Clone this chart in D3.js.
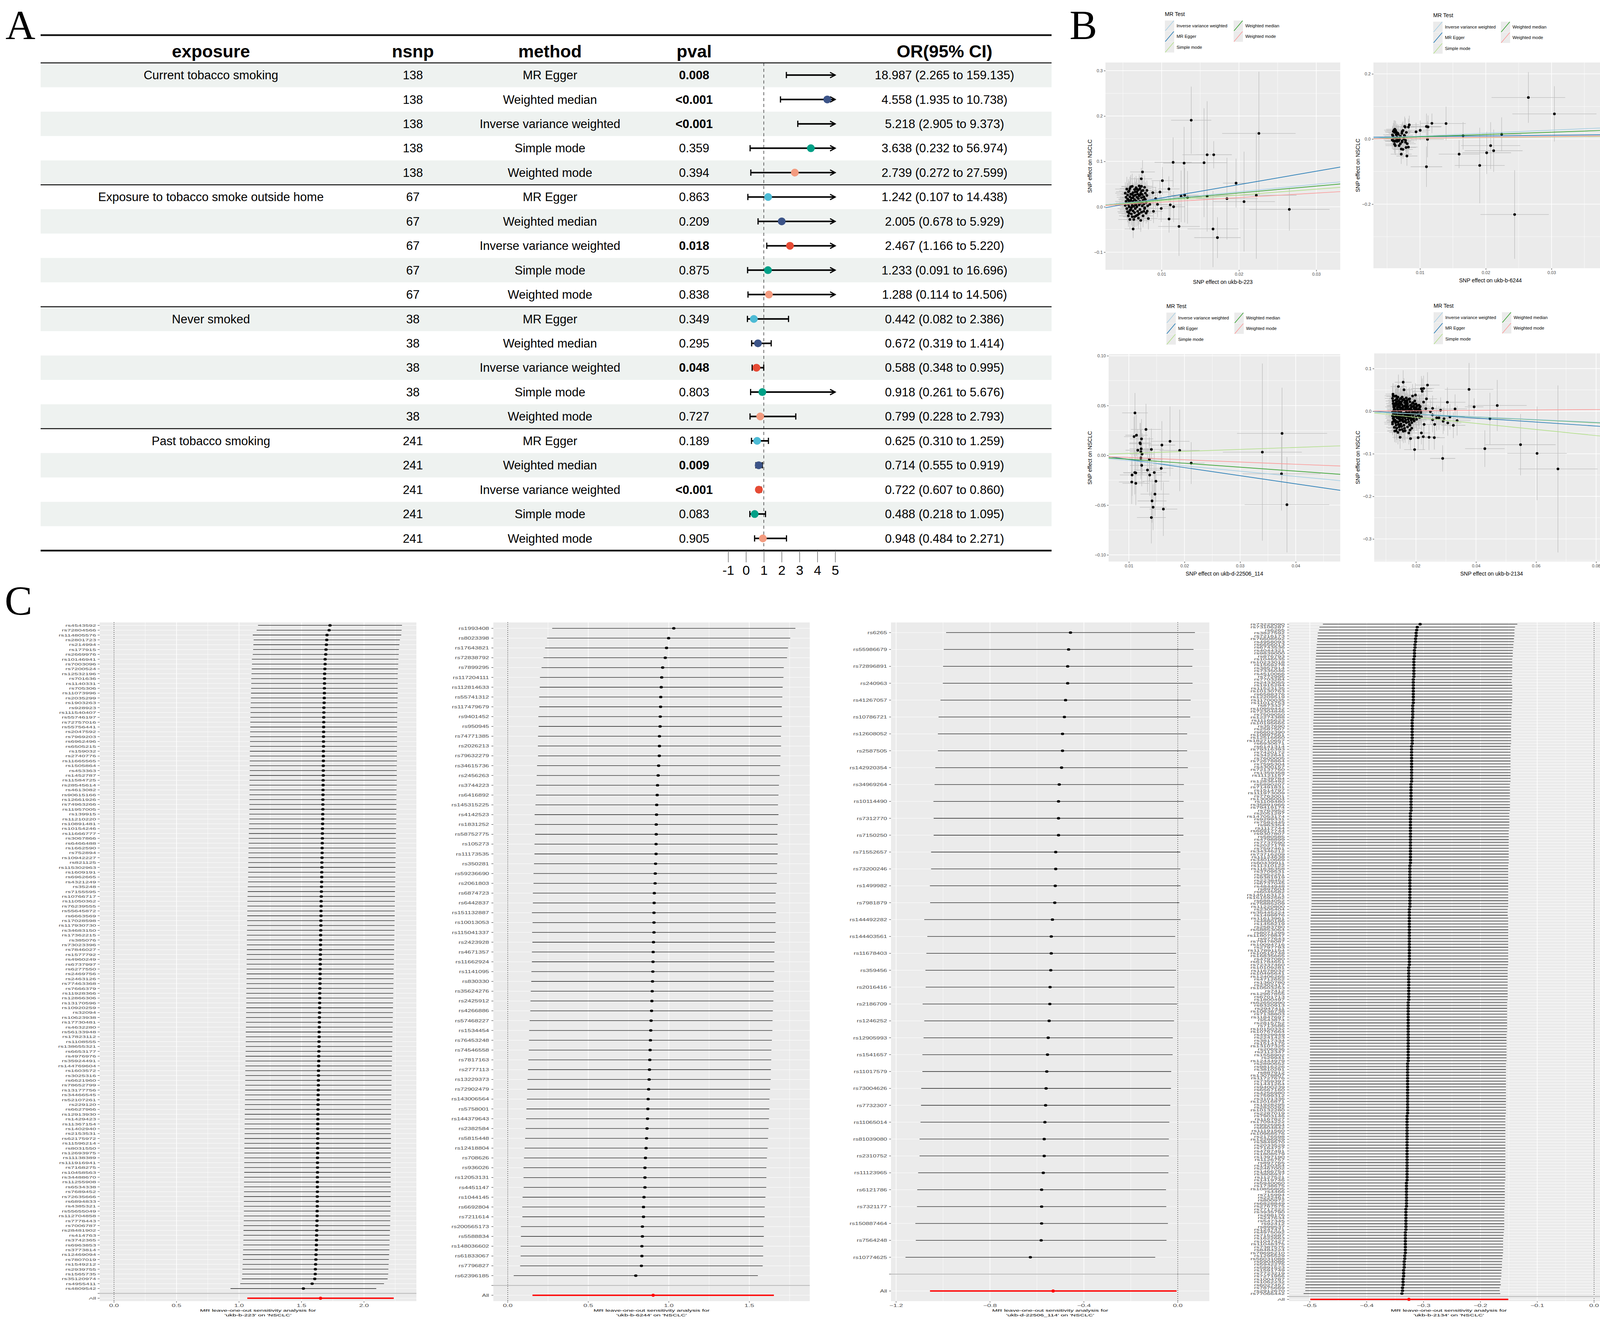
<!DOCTYPE html>
<html><head><meta charset="utf-8">
<script src="https://cdn.jsdelivr.net/npm/d3@7/dist/d3.min.js"></script>
<style>html,body{margin:0;padding:0;background:#fff}svg{display:block}</style>
</head><body>
<svg id="fig" width="4134" height="3388" xmlns="http://www.w3.org/2000/svg"></svg>
<script>
// ================= DATA : panel A (forest table) =================
const aHeaders = ["exposure","nsnp","method","pval","OR(95% CI)"];
const aExposures = ["Current tobacco smoking","Exposure to tobacco smoke outside home","Never smoked","Past tobacco smoking"];
const aMethods = ["MR Egger","Weighted median","Inverse variance weighted","Simple mode","Weighted mode"];
const aNsnp = [138,67,38,241];
const aPval = ["0.008","<0.001","<0.001","0.359","0.394","0.863","0.209","0.018","0.875","0.838","0.349","0.295","0.048","0.803","0.727","0.189","0.009","<0.001","0.083","0.905"];
const aOR = [18.987,4.558,5.218,3.638,2.739,1.242,2.005,2.467,1.233,1.288,0.442,0.672,0.588,0.918,0.799,0.625,0.714,0.722,0.488,0.948];
const aLo = [2.265,1.935,2.905,0.232,0.272,0.107,0.678,1.166,0.091,0.114,0.082,0.319,0.348,0.261,0.228,0.310,0.555,0.607,0.218,0.484];
const aHi = [159.135,10.738,9.373,56.974,27.599,14.438,5.929,5.220,16.696,14.506,2.386,1.414,0.995,5.676,2.793,1.259,0.919,0.860,1.095,2.271];
const aAxisTicks = [-1,0,1,2,3,4,5];
const aMethodColors = ["#4DBBD5","#3C5488","#E64B35","#00A087","#F39B7F"];

// ================= DATA : panel B (scatter) =================
const bMethods = ["Inverse variance weighted","MR Egger","Simple mode","Weighted median","Weighted mode"];
const bColors = ["#a6cee3","#1f78b4","#b2df8a","#33a02c","#fb9a99"];
const bDrawOrder = [1,3,0,2,4];
const bExposureIds = ["ukb-b-223","ukb-b-6244","ukb-d-22506_114","ukb-b-2134"];
// slopes / intercepts in bMethods order
const b1Slopes = [1.652,2.944,1.291,1.517,1.008], b1Intercepts = [0,-0.010,0,0,0];
const b2Slopes = [0.903,0.217,0.209,0.696,0.253], b2Intercepts = [0,0.005,0,0,0];
const b3Slopes = [-0.531,-0.816,0.198,-0.397,-0.224], b3Intercepts = [0,0.004,0,0,0];
const b4Slopes = [-0.326,-0.470,-0.717,-0.337,0.047], b4Intercepts = [0,0.0026,0,0,0];
const b1XTicks=[0.01,0.02,0.03], b1YTicks=[-0.1,0,0.1,0.2,0.3];
const b2XTicks=[0.01,0.02,0.03], b2YTicks=[-0.2,0,0.2];
const b3XTicks=[0.01,0.02,0.03,0.04], b3YTicks=[-0.10,-0.05,0,0.05,0.10];
const b4XTicks=[0.02,0.04,0.06,0.08], b4YTicks=[-0.3,-0.2,-0.1,0,0.1];
const b1XRange=[0.00274,0.0331], b1YRange=[-0.139,0.318];
const b2XRange=[0.00292,0.0385], b2YRange=[-0.397,0.235];
const b3XRange=[0.00636,0.048], b3YRange=[-0.1067,0.1016];
const b4XRange=[0.0061,0.0843], b4YRange=[-0.353,0.1356];
// points: [beta.exposure, beta.outcome, se.exposure, se.outcome]
const b1Points = [
[0.01383,0.1908,0.0026,0.074],[0.02258,0.1617,0.00475,0.136],[0.01149,0.0979,0.0024,0.055],[0.01291,0.0962,0.0027,0.08],[0.01549,0.0971,0.003,0.12],
[0.01589,0.1146,0.0032,0.118],[0.01674,0.1146,0.0023,0.03],[0.01963,0.0521,0.0017,0.054],[0.0101,0.0575,0.0014,0.03],[0.01094,0.0392,0.0014,0.028],
[0.00978,0.0325,0.0012,0.026],[0.00886,0.031,0.0012,0.025],[0.00923,0.018,0.0012,0.025],[0.01252,0.023,0.0018,0.057],[0.01298,0.0254,0.0018,0.06],
[0.01335,0.0208,0.0019,0.058],[0.01589,0.0233,0.0025,0.078],[0.01845,0.018,0.004,0.09],[0.02225,0.0254,0.0052,0.14],[0.02066,0.0113,0.004,0.11],
[0.02652,-0.0058,0.0052,0.047],[0.00947,0.0054,0.0013,0.028],[0.00995,-0.0037,0.0013,0.03],[0.01112,0.0042,0.0015,0.032],[0.01155,0.0,0.0015,0.034],
[0.00895,-0.01,0.0012,0.026],[0.01096,-0.027,0.0014,0.03],[0.01225,-0.0433,0.0027,0.065],[0.01665,-0.049,0.0033,0.084],[0.01722,-0.068,0.003,0.045],
[0.00632,-0.049,0.0011,0.02],[0.00753,0.0767,0.0016,0.026],[0.00737,0.0617,0.0014,0.024],[0.00829,-0.026,0.0012,0.024],[0.00781,-0.002,0.0012,0.025],
[0.00814,-0.0096,0.0012,0.024],[0.00847,0.0054,0.0013,0.026],
[0.0053,0.030,0.0013,0.024],[0.0054,0.021,0.0012,0.022],[0.0054,0.012,0.0014,0.025],[0.0055,-0.004,0.0012,0.021],[0.0055,0.039,0.0015,0.027],
[0.0056,-0.011,0.0013,0.023],[0.0056,0.017,0.0012,0.020],[0.0056,0.026,0.0014,0.026],[0.0057,0.005,0.0013,0.022],[0.0057,-0.020,0.0012,0.024],
[0.0057,0.033,0.0016,0.028],[0.0058,0.010,0.0013,0.021],[0.0058,-0.014,0.0014,0.023],[0.0058,0.000,0.0012,0.020],[0.0059,0.022,0.0013,0.025],
[0.0059,-0.028,0.0015,0.022],[0.0059,0.040,0.0013,0.026],[0.0060,0.014,0.0012,0.021],[0.0060,-0.006,0.0014,0.024],[0.0060,0.028,0.0013,0.023],
[0.0061,0.008,0.0012,0.020],[0.0061,-0.016,0.0013,0.025],[0.0061,0.019,0.0015,0.022],[0.0062,0.003,0.0013,0.021],[0.0062,0.045,0.0014,0.028],
[0.0062,-0.022,0.0012,0.023],[0.0063,0.012,0.0013,0.024],[0.0063,0.031,0.0014,0.022],[0.0063,-0.009,0.0012,0.021],[0.0064,0.024,0.0013,0.026],
[0.0064,0.001,0.0015,0.020],[0.0064,-0.028,0.0013,0.024],[0.0065,0.016,0.0012,0.022],[0.0065,0.038,0.0014,0.027],[0.0065,-0.013,0.0013,0.023],
[0.0066,0.006,0.0012,0.021],[0.0066,0.026,0.0013,0.025],[0.0066,-0.004,0.0014,0.022],[0.0067,0.042,0.0015,0.026],[0.0067,0.013,0.0013,0.020],
[0.0067,-0.020,0.0012,0.024],[0.0068,0.021,0.0013,0.023],[0.0068,0.000,0.0014,0.021],[0.0068,0.033,0.0012,0.025],[0.0069,-0.010,0.0013,0.022],
[0.0069,0.010,0.0012,0.020],[0.0069,0.028,0.0015,0.024],[0.0070,-0.025,0.0013,0.023],[0.0070,0.018,0.0014,0.021],[0.0070,0.037,0.0013,0.026],
[0.0071,0.004,0.0012,0.022],[0.0071,-0.015,0.0013,0.024],[0.0071,0.024,0.0014,0.021],[0.0072,0.012,0.0013,0.023],[0.0072,-0.006,0.0012,0.020],
[0.0072,0.040,0.0015,0.027],[0.0073,0.030,0.0013,0.022],[0.0073,-0.030,0.0014,0.025],[0.0073,0.008,0.0012,0.021],[0.0074,0.020,0.0013,0.024],
[0.0074,-0.012,0.0013,0.022],[0.0074,0.045,0.0014,0.026],[0.0075,0.002,0.0012,0.020],[0.0075,0.027,0.0013,0.023],[0.0076,0.014,0.0014,0.021],
[0.0076,-0.020,0.0013,0.025],[0.0076,0.036,0.0012,0.022],[0.0077,0.006,0.0013,0.024],[0.0077,0.022,0.0014,0.021],[0.0078,-0.004,0.0013,0.023],
[0.0078,0.043,0.0015,0.026],[0.0079,0.016,0.0012,0.022],[0.0079,0.030,0.0013,0.024],[0.0080,0.009,0.0014,0.021],[0.0080,-0.014,0.0013,0.023],
[0.0081,0.025,0.0012,0.025],[0.0081,0.036,0.0013,0.022],[0.0082,0.002,0.0014,0.024],[0.0058,0.035,0.0013,0.021],[0.0060,0.044,0.0012,0.026],
[0.0063,0.020,0.0014,0.023],[0.0066,0.033,0.0013,0.022],[0.0069,-0.018,0.0012,0.024],[0.0072,0.026,0.0013,0.021],[0.0055,0.008,0.0014,0.025],
[0.0061,-0.002,0.0013,0.022],[0.0064,0.009,0.0012,0.020],[0.0067,0.004,0.0013,0.023],[0.0070,0.010,0.0014,0.021],[0.0075,0.010,0.0013,0.024],
[0.0057,0.015,0.0012,0.022],[0.0062,0.027,0.0013,0.025],[0.0068,0.039,0.0014,0.023],[0.0074,0.035,0.0013,0.021],[0.0077,-0.010,0.0012,0.024],
[0.0059,-0.008,0.0013,0.022],[0.0065,-0.022,0.0014,0.023],[0.0071,0.046,0.0013,0.026],[0.0078,0.018,0.0012,0.021],[0.0053,0.003,0.0013,0.022]
];
const b2Points = [
[0.02648,0.1275,0.0056,0.078],[0.03044,0.0771,0.0064,0.085],[0.02242,0.0145,0.0030,0.052],[0.01655,0.0099,0.0045,0.042],[0.01595,-0.0464,0.0031,0.043],
[0.01908,-0.0812,0.0038,0.116],[0.02014,-0.0423,0.0037,0.065],[0.02074,-0.0203,0.0045,0.072],[0.0212,-0.036,0.0044,0.065],[0.02439,-0.2319,0.0052,0.136],
[0.01396,0.0475,0.0030,0.052],[0.01181,0.0481,0.0018,0.030],[0.01098,0.0383,0.0023,0.040],[0.01122,0.0371,0.0020,0.035],[0.01114,-0.0012,0.0025,0.055],
[0.01098,-0.0852,0.0024,0.062],[0.01003,0.0267,0.0015,0.030],[0.0094,0.022,0.0015,0.028],
[0.00581,0.0128,0.0014,0.028],[0.00594,0.0232,0.0013,0.026],[0.00604,0.0272,0.0015,0.030],[0.00617,0.0301,0.0013,0.027],[0.0063,0.0261,0.0014,0.029],
[0.00594,-0.0058,0.0013,0.026],[0.00612,-0.0157,0.0014,0.028],[0.00625,-0.0058,0.0013,0.027],[0.00638,0.0133,0.0015,0.029],[0.00651,-0.0075,0.0013,0.026],
[0.00664,0.0174,0.0014,0.028],[0.00671,0.0145,0.0013,0.027],[0.00656,-0.0029,0.0014,0.026],[0.00677,-0.0058,0.0013,0.028],[0.00633,0.0029,0.0015,0.029],
[0.00599,0.0029,0.0013,0.027],[0.00612,-0.0075,0.0014,0.026],[0.00715,-0.0307,0.0013,0.028],[0.00715,-0.0464,0.0016,0.030],[0.00728,-0.0087,0.0013,0.027],
[0.00728,-0.0058,0.0014,0.026],[0.00741,-0.0319,0.0015,0.029],[0.00741,0.0261,0.0013,0.028],[0.00728,0.0232,0.0014,0.027],[0.00762,0.0116,0.0013,0.026],
[0.00767,0.0087,0.0014,0.028],[0.00767,0.0388,0.0015,0.030],[0.00775,0.0365,0.0013,0.027],[0.0078,-0.0041,0.0014,0.026],[0.0078,-0.0099,0.0013,0.028],
[0.00788,-0.0261,0.0015,0.029],[0.00824,-0.0249,0.0014,0.027],[0.00801,-0.0522,0.0016,0.030],[0.00824,0.0365,0.0013,0.026],[0.00837,0.0435,0.0015,0.028],
[0.00754,0.0,0.0013,0.027],[0.0069,0.0,0.0014,0.026],[0.00702,0.0087,0.0013,0.028],[0.00646,0.0203,0.0014,0.027],[0.00682,-0.0203,0.0013,0.029],
[0.00702,-0.0145,0.0015,0.026],[0.00589,0.0087,0.0013,0.028],[0.00651,0.0058,0.0014,0.027],[0.00723,0.0174,0.0013,0.026],[0.00793,0.0203,0.0014,0.028],
[0.00806,-0.0145,0.0013,0.027],[0.00614,0.0203,0.0014,0.026],[0.00578,-0.0029,0.0013,0.028],[0.00625,-0.0203,0.0015,0.029]
];
const b3Points = [
[0.0111,0.0426,0.0023,0.020],[0.01094,0.0188,0.0018,0.020],[0.01137,0.0202,0.0020,0.021],[0.01308,0.026,0.0027,0.0257],[0.01228,0.0165,0.0021,0.020],
[0.01201,0.0125,0.0019,0.020],[0.01207,0.0116,0.0020,0.021],[0.01161,0.0051,0.0022,0.021],[0.01222,0.0065,0.0021,0.020],[0.01238,0.0013,0.0022,0.021],
[0.01216,0.0036,0.0020,0.022],[0.01216,-0.0027,0.0021,0.021],[0.01405,0.0059,0.0022,0.021],[0.01369,-0.004,0.0024,0.022],[0.01231,-0.0101,0.0021,0.021],
[0.01335,-0.0148,0.0024,0.022],[0.01375,-0.0198,0.0023,0.021],[0.01457,-0.0173,0.0022,0.022],[0.01487,-0.026,0.0024,0.021],[0.01469,-0.039,0.0026,0.022],
[0.01417,-0.0458,0.0026,0.022],[0.01436,-0.0521,0.0024,0.023],[0.01405,-0.0625,0.0026,0.026],[0.01621,-0.054,0.0025,0.027],[0.01582,-0.0131,0.0022,0.022],
[0.01594,0.0103,0.0024,0.024],[0.0174,0.0141,0.0035,0.035],[0.01914,0.0049,0.0036,0.041],[0.02121,-0.0078,0.0024,0.021],[0.034,0.0032,0.0071,0.089],
[0.03754,0.022,0.0081,0.046],[0.03744,-0.0186,0.0070,0.037],[0.03842,-0.0496,0.0076,0.048],[0.01058,-0.0198,0.0022,0.021],[0.01107,-0.0173,0.0021,0.022],
[0.01125,-0.0177,0.0022,0.021],[0.01052,-0.0268,0.0023,0.022],[0.01125,-0.0281,0.0024,0.022]
];
const b4Points = [
[0.03768,0.0511,0.0081,0.062],[0.03938,0.0102,0.0031,0.02],[0.04708,0.0133,0.0098,0.06],[0.04465,-0.0178,0.0110,0.061],[0.04295,-0.088,0.0066,0.043],
[0.05484,-0.0787,0.0117,0.072],[0.06034,-0.0991,0.0099,0.11],[0.0673,-0.1356,0.0132,0.196],[0.0289,-0.111,0.0042,0.031],[0.01955,-0.0902,0.0035,0.025],
[0.03048,0.0209,0.0060,0.035],[0.03303,0.0053,0.0040,0.034],[0.02822,0.0022,0.0045,0.03],[0.03133,-0.0133,0.0050,0.03],[0.0306,-0.0276,0.0045,0.03],
[0.03246,-0.0333,0.0040,0.03],[0.03371,-0.0222,0.0045,0.035],[0.02906,-0.0236,0.0040,0.03],[0.02935,-0.0178,0.0040,0.028],[0.02691,-0.0156,0.0040,0.03],
[0.02765,-0.0156,0.0038,0.028],[0.02623,-0.0311,0.0040,0.03],[0.02612,-0.0622,0.0035,0.028],[0.02436,-0.0613,0.0035,0.03],[0.02244,-0.06,0.0035,0.03],
[0.02074,-0.0622,0.0030,0.028],[0.02181,-0.0511,0.0030,0.027],[0.01819,-0.0644,0.0030,0.027],[0.02385,0.0613,0.0040,0.03],[0.02255,0.0533,0.0035,0.03],
[0.02181,0.0524,0.0035,0.03],[0.0221,0.0467,0.0035,0.03],[0.02351,0.0289,0.0035,0.03],[0.02255,0.0213,0.0033,0.03],[0.02329,0.0058,0.0035,0.03],
[0.02555,0.0067,0.0035,0.03],[0.02482,-0.0013,0.0035,0.028],[0.0255,-0.0089,0.0035,0.028],[0.02555,-0.02,0.0035,0.03],[0.02272,-0.0311,0.0030,0.028],
[0.02181,-0.0133,0.0030,0.028],[0.01575,0.068,0.0028,0.028],[0.01416,0.0578,0.0026,0.028],[0.01603,0.0502,0.0028,0.027],[0.01235,0.04,0.0025,0.026],
[0.01337,0.0356,0.0026,0.027],[0.01677,0.0311,0.0028,0.027],[0.01887,0.0356,0.0030,0.028],[0.01983,0.0378,0.0030,0.028],[0.0179,0.0289,0.0028,0.027],
[0.01473,-0.0613,0.0026,0.027],[0.01292,-0.0467,0.0025,0.026],[0.01762,-0.0511,0.0028,0.027],[0.01802,-0.0444,0.0028,0.027],
[0.0122,0.030,0.0026,0.026],[0.0124,0.018,0.0024,0.025],[0.0126,0.010,0.0028,0.027],[0.0128,0.004,0.0025,0.024],[0.0122,-0.002,0.0027,0.026],
[0.0124,-0.008,0.0024,0.025],[0.0126,-0.014,0.0026,0.027],[0.0128,-0.020,0.0025,0.026],[0.0122,-0.026,0.0028,0.028],[0.0124,0.024,0.0025,0.025],
[0.0126,0.014,0.0024,0.026],[0.0128,-0.005,0.0027,0.024],[0.0122,-0.011,0.0025,0.027],[0.0124,-0.017,0.0026,0.025],[0.0126,0.001,0.0024,0.026],
[0.0128,0.007,0.0025,0.025],[0.0122,-0.030,0.0027,0.027],[0.0124,0.036,0.0028,0.028],[0.0126,-0.023,0.0025,0.026],[0.0128,0.012,0.0024,0.025],
[0.0130,0.035,0.0028,0.027],[0.0132,0.026,0.0025,0.026],[0.0134,0.020,0.0026,0.025],[0.0136,0.015,0.0027,0.027],[0.0138,0.009,0.0025,0.024],
[0.0130,0.003,0.0024,0.026],[0.0132,-0.001,0.0026,0.025],[0.0134,-0.006,0.0025,0.027],[0.0136,-0.010,0.0027,0.026],[0.0138,-0.016,0.0025,0.025],
[0.0130,-0.021,0.0026,0.027],[0.0132,-0.027,0.0028,0.026],[0.0134,-0.033,0.0027,0.028],[0.0136,-0.040,0.0029,0.027],[0.0138,0.031,0.0026,0.026],
[0.0130,0.012,0.0025,0.025],[0.0132,-0.003,0.0024,0.026],[0.0134,-0.013,0.0026,0.025],[0.0136,-0.024,0.0027,0.027],[0.0138,0.006,0.0025,0.024],
[0.0130,0.018,0.0026,0.026],[0.0132,-0.008,0.0025,0.025],[0.0134,-0.046,0.0029,0.028],[0.0136,0.022,0.0026,0.026],
[0.0140,0.033,0.0027,0.027],[0.0142,0.025,0.0026,0.026],[0.0144,0.019,0.0025,0.025],[0.0146,0.013,0.0027,0.026],[0.0148,0.008,0.0026,0.024],
[0.0140,0.002,0.0025,0.026],[0.0142,-0.004,0.0027,0.025],[0.0144,-0.009,0.0026,0.027],[0.0146,-0.015,0.0025,0.026],[0.0148,-0.020,0.0027,0.025],
[0.0140,-0.026,0.0028,0.027],[0.0142,-0.031,0.0026,0.026],[0.0144,-0.037,0.0028,0.028],[0.0146,-0.044,0.0029,0.027],[0.0148,0.029,0.0026,0.026],
[0.0140,0.016,0.0025,0.025],[0.0142,-0.001,0.0026,0.026],[0.0144,-0.012,0.0027,0.025],[0.0146,-0.023,0.0026,0.027],[0.0148,0.005,0.0025,0.024],
[0.0140,-0.050,0.0029,0.028],[0.0142,0.010,0.0026,0.025],[0.0144,-0.018,0.0025,0.026],[0.0146,0.022,0.0027,0.026],
[0.0150,0.030,0.0028,0.027],[0.0152,0.022,0.0027,0.026],[0.0154,0.015,0.0026,0.025],[0.0156,0.009,0.0028,0.026],[0.0158,0.003,0.0027,0.025],
[0.0150,-0.003,0.0026,0.026],[0.0152,-0.008,0.0027,0.025],[0.0154,-0.014,0.0028,0.027],[0.0156,-0.019,0.0026,0.026],[0.0158,-0.025,0.0027,0.025],
[0.0150,-0.030,0.0028,0.027],[0.0152,-0.036,0.0029,0.027],[0.0154,-0.043,0.0030,0.028],[0.0156,0.026,0.0027,0.026],[0.0158,0.011,0.0026,0.025],
[0.0150,0.000,0.0027,0.026],[0.0152,-0.011,0.0026,0.025],[0.0154,-0.022,0.0028,0.027],[0.0156,0.006,0.0027,0.025],[0.0158,-0.047,0.0030,0.028],
[0.0150,0.018,0.0026,0.026],[0.0152,-0.005,0.0027,0.025],
[0.0160,0.028,0.0029,0.027],[0.0162,0.020,0.0028,0.026],[0.0164,0.013,0.0027,0.025],[0.0166,0.007,0.0029,0.026],[0.0168,0.001,0.0028,0.025],
[0.0160,-0.005,0.0027,0.026],[0.0162,-0.010,0.0028,0.025],[0.0164,-0.016,0.0029,0.027],[0.0166,-0.021,0.0027,0.026],[0.0168,-0.027,0.0028,0.025],
[0.0160,-0.033,0.0029,0.027],[0.0162,-0.040,0.0030,0.028],[0.0164,0.024,0.0028,0.026],[0.0166,0.010,0.0027,0.025],[0.0168,-0.002,0.0028,0.026],
[0.0160,-0.013,0.0027,0.025],[0.0162,-0.024,0.0029,0.027],[0.0164,0.004,0.0028,0.025],[0.0166,0.016,0.0027,0.026],[0.0168,-0.008,0.0028,0.025],
[0.0170,0.025,0.0030,0.027],[0.0172,0.017,0.0029,0.026],[0.0174,0.011,0.0028,0.025],[0.0176,0.004,0.0030,0.026],[0.0178,-0.002,0.0029,0.025],
[0.0170,-0.008,0.0028,0.026],[0.0172,-0.013,0.0029,0.025],[0.0174,-0.019,0.0030,0.027],[0.0176,-0.025,0.0028,0.026],[0.0178,-0.031,0.0029,0.027],
[0.0170,0.021,0.0029,0.026],[0.0172,0.007,0.0028,0.025],[0.0174,-0.005,0.0029,0.026],[0.0176,-0.016,0.0028,0.025],[0.0178,0.000,0.0030,0.026],
[0.0170,0.013,0.0029,0.025],[0.0172,-0.037,0.0031,0.028],[0.0174,-0.010,0.0028,0.026],
[0.0180,0.022,0.0031,0.027],[0.0182,0.014,0.0030,0.026],[0.0184,0.008,0.0029,0.025],[0.0186,0.002,0.0031,0.026],[0.0188,-0.004,0.0030,0.025],
[0.0180,-0.010,0.0029,0.026],[0.0182,-0.015,0.0030,0.025],[0.0184,-0.021,0.0031,0.027],[0.0186,-0.027,0.0029,0.026],[0.0188,0.018,0.0030,0.026],
[0.0180,0.005,0.0029,0.025],[0.0182,-0.007,0.0030,0.026],[0.0184,-0.018,0.0031,0.025],[0.0186,0.011,0.0029,0.026],[0.0188,-0.001,0.0030,0.025],
[0.0180,-0.033,0.0032,0.028],
[0.0190,0.020,0.0032,0.027],[0.0192,0.012,0.0031,0.026],[0.0194,0.006,0.0030,0.025],[0.0196,0.000,0.0032,0.026],[0.0198,-0.006,0.0031,0.025],
[0.0190,-0.011,0.0030,0.026],[0.0192,-0.017,0.0031,0.025],[0.0194,-0.023,0.0032,0.027],[0.0196,0.016,0.0030,0.026],[0.0198,0.003,0.0031,0.025],
[0.0190,-0.009,0.0030,0.026],[0.0192,-0.020,0.0032,0.026],[0.0194,0.009,0.0031,0.025],[0.0196,-0.003,0.0030,0.026],
[0.0200,0.017,0.0033,0.027],[0.0202,0.010,0.0032,0.026],[0.0204,0.004,0.0031,0.025],[0.0206,-0.002,0.0033,0.026],[0.0208,-0.008,0.0032,0.025],
[0.0200,-0.013,0.0031,0.026],[0.0202,-0.019,0.0033,0.027],[0.0204,0.013,0.0032,0.026],[0.0206,0.001,0.0031,0.025],[0.0208,-0.010,0.0032,0.026],
[0.0200,0.007,0.0031,0.025],[0.0202,-0.005,0.0032,0.026],
[0.0210,0.014,0.0034,0.027],[0.0212,0.008,0.0033,0.026],[0.0214,0.002,0.0032,0.025],[0.0216,-0.004,0.0034,0.026],[0.0210,-0.009,0.0033,0.025],
[0.0212,-0.015,0.0032,0.026],[0.0214,0.011,0.0033,0.025],[0.0216,-0.001,0.0034,0.026],[0.0210,0.005,0.0032,0.025],
[0.0128,-0.038,0.0027,0.027],[0.0136,0.029,0.0026,0.026],[0.0146,-0.034,0.0028,0.027],[0.0154,0.033,0.0027,0.026],[0.0164,-0.046,0.0030,0.028],
[0.0176,0.028,0.0029,0.026],[0.0186,-0.040,0.0031,0.027],[0.0196,0.024,0.0031,0.026]
];

// ================= DATA : panel C (leave-one-out) =================
const c1Snps = ("rs4543592 rs72804566 rs114805576 rs2801723 rs214994 rs177915 rs2669976 rs10146941 rs7003096 rs7200524 " +
"rs12532196 rs701636 rs1140331 rs705306 rs11073996 rs2035299 rs1903263 rs928923 rs111540407 rs55746197 " +
"rs72757016 rs55756441 rs2047592 rs7969203 rs6962496 rs6505215 rs159032 rs2740776 rs11665565 rs1505864 " +
"rs453363 rs1452787 rs11584725 rs28545614 rs4613082 rs90615166 rs12661926 rs74963266 rs11957005 rs139915 " +
"rs11210220 rs10891481 rs10154246 rs11666777 rs3067866 rs6466488 rs1662590 rs752894 rs10942227 rs821125 " +
"rs115302963 rs1609191 rs6962665 rs4321249 rs35248 rs7155595 rs10766717 rs11050362 rs76239555 rs55645872 " +
"rs6663569 rs17028598 rs117930730 rs34683150 rs17362215 rs385076 rs73023396 rs7846027 rs1577792 rs4960249 " +
"rs6737997 rs6277550 rs2469756 rs2463126 rs77463368 rs7666379 rs11928366 rs12866306 rs13170596 rs10920259 " +
"rs32094 rs10623938 rs17730481 rs4632280 rs56133948 rs17823112 rs1108555 rs138655321 rs6653177 rs4976976 " +
"rs35924491 rs144769604 rs1603572 rs3025316 rs6621960 rs78652799 rs13177756 rs34466545 rs52107261 rs229120 " +
"rs6627966 rs12913930 rs1429423 rs11367154 rs1402940 rs2153531 rs62175972 rs11596214 rs8031550 rs12693975 " +
"rs11138389 rs111916941 rs7168275 rs10458563 rs34488670 rs11255908 rs6534338 rs7689452 rs72635666 rs6894833 " +
"rs4385321 rs55655049 rs112704858 rs7778443 rs7006787 rs28481902 rs414763 rs3742365 rs6963853 rs3773814 " +
"rs12469094 rs7807019 rs1549212 rs2939755 rs1565735 rs35120974 rs4955411 rs4809542").split(" ");
const c1B = [1.728,1.721,1.704,1.702,1.699,1.696,1.694,1.689,1.689,1.687,
1.685,1.684,1.684,1.683,1.683,1.682,1.681,1.679,1.679,1.678,
1.678,1.677,1.677,1.676,1.676,1.676,1.675,1.675,1.675,1.674,
1.674,1.674,1.673,1.673,1.672,1.672,1.671,1.671,1.671,1.670,
1.670,1.669,1.668,1.667,1.667,1.666,1.665,1.665,1.664,1.663,
1.663,1.662,1.662,1.661,1.660,1.659,1.658,1.657,1.657,1.656,
1.656,1.655,1.655,1.654,1.653,1.653,1.652,1.652,1.651,1.650,
1.650,1.649,1.649,1.648,1.648,1.647,1.646,1.646,1.645,1.645,
1.644,1.643,1.643,1.642,1.641,1.641,1.640,1.640,1.639,1.638,
1.638,1.637,1.636,1.636,1.635,1.635,1.634,1.633,1.633,1.632,
1.632,1.631,1.631,1.630,1.630,1.630,1.630,1.629,1.629,1.629,
1.628,1.628,1.628,1.628,1.627,1.627,1.627,1.627,1.626,1.626,
1.626,1.625,1.625,1.624,1.623,1.622,1.621,1.620,1.619,1.618,
1.616,1.615,1.613,1.611,1.610,1.606,1.585,1.515];
const c1Hw = [0.576,0.580,0.594,0.585,0.584,0.583,0.584,0.586,0.585,0.585,
0.585,0.586,0.586,0.586,0.587,0.587,0.587,0.588,0.587,0.587,
0.588,0.587,0.588,0.588,0.588,0.588,0.588,0.588,0.589,0.588,
0.588,0.588,0.589,0.589,0.588,0.588,0.588,0.588,0.588,0.588,
0.588,0.588,0.589,0.588,0.589,0.588,0.589,0.589,0.589,0.589,
0.589,0.589,0.589,0.589,0.590,0.589,0.590,0.590,0.590,0.590,
0.590,0.590,0.589,0.590,0.590,0.590,0.589,0.589,0.589,0.589,
0.589,0.588,0.588,0.588,0.588,0.588,0.588,0.588,0.587,0.587,
0.587,0.587,0.587,0.587,0.587,0.586,0.586,0.586,0.586,0.586,
0.586,0.586,0.586,0.585,0.585,0.585,0.585,0.585,0.585,0.585,
0.585,0.585,0.585,0.585,0.585,0.585,0.586,0.586,0.586,0.586,
0.586,0.586,0.586,0.586,0.586,0.587,0.587,0.587,0.587,0.587,
0.587,0.586,0.586,0.586,0.586,0.586,0.585,0.585,0.585,0.585,
0.585,0.584,0.584,0.584,0.584,0.583,0.575,0.583];

const c2Snps = ("rs1993408 rs8023398 rs17643821 rs72838792 rs7899295 rs117204111 rs112814633 rs55741312 rs117479679 rs9401452 " +
"rs950945 rs74771385 rs2026213 rs79632279 rs34615736 rs2456263 rs3744223 rs6416892 rs145315225 rs4142523 " +
"rs1831252 rs58752775 rs105273 rs11173535 rs350281 rs59236690 rs2061803 rs6874723 rs6442837 rs151132887 " +
"rs10013053 rs115041337 rs2423928 rs4671357 rs11662924 rs1141095 rs830330 rs35624276 rs2425912 rs4266886 " +
"rs57468227 rs1534454 rs76453248 rs74546558 rs7817163 rs2777113 rs13229373 rs72902479 rs143006564 rs5758001 " +
"rs144379643 rs2382584 rs5815448 rs12418804 rs708626 rs936026 rs12053131 rs4451147 rs1044145 rs6692804 " +
"rs7211614 rs200565173 rs5588834 rs148036602 rs61833067 rs7796827 rs62396185").split(" ");
const c2B = [1.031,0.999,0.986,0.978,0.962,0.956,0.953,0.950,0.949,0.947,
0.946,0.942,0.942,0.941,0.937,0.934,0.930,0.928,0.925,0.924,
0.922,0.922,0.921,0.921,0.918,0.916,0.915,0.910,0.909,0.908,
0.908,0.908,0.905,0.903,0.902,0.901,0.899,0.897,0.895,0.893,
0.890,0.888,0.886,0.884,0.882,0.880,0.878,0.875,0.872,0.870,
0.868,0.865,0.862,0.859,0.855,0.852,0.852,0.852,0.846,0.843,
0.843,0.836,0.836,0.833,0.833,0.830,0.795];
const c2Hw = [0.755,0.755,0.754,0.756,0.752,0.756,0.754,0.755,0.753,0.757,
0.754,0.754,0.755,0.753,0.755,0.754,0.754,0.753,0.753,0.757,
0.754,0.752,0.755,0.755,0.755,0.756,0.755,0.754,0.753,0.758,
0.754,0.757,0.752,0.753,0.752,0.754,0.753,0.754,0.754,0.753,
0.754,0.755,0.754,0.753,0.754,0.754,0.755,0.754,0.753,0.754,
0.754,0.754,0.754,0.754,0.754,0.754,0.754,0.753,0.754,0.753,
0.752,0.754,0.754,0.753,0.753,0.753,0.758];

const c3Snps = ("rs6265 rs55986679 rs72896891 rs240963 rs41267057 rs10786721 rs12608052 rs2587505 rs142920354 rs34969264 " +
"rs10114490 rs7312770 rs7150250 rs71552657 rs73200246 rs1499982 rs7981879 rs144492282 rs144403561 rs11678403 " +
"rs359456 rs2016416 rs2186709 rs1246252 rs12905993 rs1541657 rs11017579 rs73004626 rs7732307 rs11065014 " +
"rs81039080 rs2310752 rs11123965 rs6121786 rs7321177 rs150887464 rs7564248 rs10774625").split(" ");
const c3B = [-0.457,-0.465,-0.469,-0.469,-0.478,-0.483,-0.491,-0.491,-0.495,-0.505,
-0.508,-0.508,-0.508,-0.520,-0.520,-0.522,-0.524,-0.534,-0.539,-0.539,
-0.541,-0.544,-0.545,-0.548,-0.552,-0.555,-0.558,-0.561,-0.563,-0.566,
-0.569,-0.569,-0.573,-0.580,-0.580,-0.580,-0.582,-0.628];
const c3Hw = [0.530,0.532,0.531,0.532,0.533,0.536,0.531,0.531,0.538,0.531,
0.533,0.532,0.532,0.531,0.531,0.534,0.531,0.546,0.528,0.532,
0.534,0.530,0.542,0.532,0.531,0.533,0.530,0.532,0.531,0.530,
0.531,0.531,0.533,0.530,0.531,0.538,0.534,0.532];

const c4Snps = ("rs73229090 rs73106287 rs6265 rs3827592 rs7216173 rs76608592 rs4958093 rs6656013 rs6743536 rs4044321 " +
"rs9839000 rs876793 rs1046535 rs10233018 rs1559278 rs3857914 rs7335046 rs4510066 rs772995 rs7703284 " +
"rs2433055 rs1915294 rs11523135 rs10130763 rs6588376 rs12209519 rs11700035 rs11012753 rs873327 rs10959442 " +
"rs72304846 rs7509050 rs12274388 rs11165623 rs10195665 rs357690 rs2587507 rs6602390 rs10897561 rs12516660 " +
"rs182710657 rs6930671 rs6141314 rs79316393 rs7420172 rs3422641 rs7600005 rs72678864 rs7595304 rs4300157 " +
"rs72137760 rs1359358 rs11121157 rs39784 rs12836492 rs5890207 rs71491831 rs1514797 rs111973009 rs7763001 " +
"rs13006004 rs1109480 rs35891966 rs79419174 rs763952 rs2051297 rs147053174 rs9299331 rs7582445 rs963354 " +
"rs1117744 rs66917744 rs9307807 rs580585 rs4798899 rs7737590 rs2027178 rs7597461 rs34346212 rs73716209 " +
"rs11124638 rs34010669 rs60439911 rs11310122 rs11636358 rs3709531 rs2952251 rs9381919 rs2238452 rs6737045 " +
"rs4844948 rs897604 rs6045582 rs145163171 rs151592582 rs6884052 rs75885209 rs11220800 rs2305404 rs35445224 " +
"rs1499976 rs11613961 rs4880186 rs1458219 rs2583780 rs58853064 rs8071295 rs118079847 rs977643 rs79478087 " +
"rs10094716 rs2797793 rs117891154 rs10515748 rs16835665 rs4797080 rs61784651 rs72337460 rs10109281 rs11678032 " +
"rs10495641 rs12406265 rs4712652 rs1360780 rs2302417 rs10503253 rs7412 rs12967855 rs6701713 rs1800497 " +
"rs62650990 rs9320913 rs2947411 rs10838738 rs7138803 rs11847697 rs543874 rs2815752 rs713586 rs10150332 " +
"rs10767664 rs4929949 rs2241423 rs3817334 rs1514175 rs13107325 rs206936 rs2112347 rs1558902 rs29941 " +
"rs12444979 rs2890652 rs9816226 rs3810291 rs887912 rs13078807 rs11727676 rs7359397 rs1441264 rs9400239 " +
"rs6567160 rs4256980 rs7599312 rs3101336 rs12016871 rs1928295 rs2820292 rs10132280 rs2287019 rs7903146 " +
"rs1167827 rs17094222 rs9925964 rs6804842 rs11191560 rs10968576 rs2176598 rs12286929 rs3849570 rs2033529 " +
"rs7164727 rs4787491 rs1808579 rs1397190 rs1126757 rs897765 rs1420354 rs2467002 rs1466754 rs3806937 " +
"rs1127521 rs1419746 rs5940060 rs1738675 rs10856805 rs4466 rs715994 rs222461 rs800972 rs6828849 " +
"rs2767575 rs7717222 rs3935790 rs288176 rs247634 rs547345 rs92412 rs899537 rs1247471 rs4975092 " +
"rs7152687 rs1622663 rs1047427 rs11048375 rs7387575 rs8484224 rs78695210 rs1295529 rs56031088 rs5904086 " +
"rs5942275 rs5891523 rs1591749 rs7723219 rs7271956 rs1004787 rs1062232 rs6027457 rs7875669 rs2912670 " +
"rs77066442 rs6751709 rs1499360 rs6733654 rs6622597 rs2367724 rs9375574 rs2155290 rs3794963 rs161174 " +
"rs597808").split(" ");
const c4B = [-0.306,-0.311,-0.312,-0.313,-0.313,-0.314,-0.314,-0.315,-0.315,-0.316,
-0.316,-0.316,-0.317,-0.317,-0.317,-0.317,-0.317,-0.317,-0.317,-0.318,
-0.318,-0.318,-0.318,-0.318,-0.318,-0.318,-0.318,-0.318,-0.319,-0.319,
-0.319,-0.319,-0.319,-0.320,-0.320,-0.320,-0.320,-0.320,-0.320,-0.320,
-0.320,-0.320,-0.321,-0.321,-0.321,-0.321,-0.321,-0.321,-0.321,-0.321,
-0.321,-0.321,-0.321,-0.321,-0.321,-0.322,-0.322,-0.322,-0.322,-0.322,
-0.322,-0.322,-0.322,-0.322,-0.322,-0.323,-0.323,-0.323,-0.323,-0.323,
-0.323,-0.323,-0.323,-0.323,-0.323,-0.323,-0.323,-0.323,-0.323,-0.323,
-0.323,-0.323,-0.323,-0.324,-0.324,-0.324,-0.324,-0.324,-0.324,-0.324,
-0.324,-0.324,-0.324,-0.324,-0.324,-0.324,-0.324,-0.324,-0.325,-0.325,
-0.325,-0.325,-0.325,-0.325,-0.325,-0.325,-0.325,-0.325,-0.325,-0.325,
-0.325,-0.325,-0.325,-0.325,-0.325,-0.325,-0.325,-0.325,-0.326,-0.326,
-0.326,-0.326,-0.326,-0.326,-0.326,-0.326,-0.326,-0.326,-0.326,-0.326,
-0.327,-0.327,-0.327,-0.327,-0.327,-0.327,-0.327,-0.327,-0.327,-0.327,
-0.327,-0.327,-0.327,-0.327,-0.327,-0.327,-0.327,-0.327,-0.327,-0.327,
-0.327,-0.328,-0.328,-0.328,-0.328,-0.328,-0.328,-0.328,-0.328,-0.328,
-0.328,-0.328,-0.328,-0.328,-0.328,-0.328,-0.328,-0.328,-0.328,-0.329,
-0.329,-0.329,-0.329,-0.329,-0.329,-0.329,-0.329,-0.329,-0.329,-0.329,
-0.329,-0.329,-0.329,-0.329,-0.329,-0.329,-0.329,-0.329,-0.329,-0.329,
-0.329,-0.329,-0.330,-0.330,-0.330,-0.330,-0.330,-0.330,-0.330,-0.330,
-0.330,-0.331,-0.331,-0.331,-0.331,-0.331,-0.331,-0.331,-0.331,-0.332,
-0.332,-0.332,-0.332,-0.332,-0.332,-0.332,-0.332,-0.333,-0.333,-0.334,
-0.334,-0.334,-0.335,-0.335,-0.335,-0.336,-0.336,-0.336,-0.337,-0.337,
-0.338,-0.338,-0.339,-0.339,-0.340,-0.341,-0.341,-0.342,-0.343,-0.344,
-0.348];
const c4Hw = [0.171,0.172,0.172,0.173,0.173,0.173,0.173,0.173,0.173,0.173,
0.173,0.173,0.173,0.173,0.173,0.173,0.173,0.173,0.173,0.173,
0.173,0.174,0.174,0.174,0.174,0.174,0.174,0.174,0.174,0.174,
0.174,0.174,0.174,0.174,0.174,0.174,0.174,0.174,0.174,0.174,
0.174,0.174,0.174,0.174,0.174,0.174,0.174,0.174,0.174,0.174,
0.174,0.174,0.174,0.174,0.174,0.174,0.174,0.174,0.174,0.174,
0.174,0.174,0.174,0.174,0.174,0.174,0.174,0.174,0.174,0.174,
0.174,0.173,0.173,0.173,0.173,0.173,0.173,0.173,0.173,0.173,
0.173,0.173,0.173,0.173,0.173,0.173,0.173,0.173,0.173,0.173,
0.173,0.173,0.173,0.173,0.173,0.173,0.173,0.173,0.173,0.173,
0.173,0.174,0.174,0.174,0.174,0.174,0.174,0.174,0.174,0.174,
0.174,0.174,0.174,0.174,0.174,0.174,0.174,0.174,0.174,0.174,
0.174,0.174,0.174,0.174,0.174,0.174,0.174,0.174,0.174,0.174,
0.174,0.174,0.174,0.174,0.174,0.174,0.174,0.174,0.174,0.174,
0.174,0.173,0.173,0.173,0.173,0.173,0.173,0.173,0.173,0.173,
0.173,0.173,0.173,0.173,0.173,0.173,0.173,0.173,0.173,0.173,
0.173,0.173,0.173,0.173,0.173,0.173,0.173,0.173,0.173,0.173,
0.173,0.173,0.173,0.173,0.173,0.173,0.173,0.173,0.173,0.173,
0.173,0.173,0.173,0.173,0.173,0.173,0.173,0.173,0.173,0.173,
0.173,0.173,0.173,0.173,0.173,0.173,0.173,0.173,0.173,0.173,
0.173,0.173,0.173,0.173,0.173,0.173,0.173,0.173,0.173,0.173,
0.173,0.172,0.172,0.172,0.172,0.172,0.172,0.172,0.172,0.172,
0.172,0.172,0.172,0.172,0.172,0.172,0.171,0.172,0.171,0.171,
0.173];
const c1Ticks=[0,0.5,1,1.5,2], c2Ticks=[0,0.5,1,1.5], c3Ticks=[-1.2,-0.8,-0.4,0], c4Ticks=[-0.5,-0.4,-0.3,-0.2,-0.1,0];
const cOutcome = "NSCLC";

// ================= DRAWING =================
const SANS = "'Liberation Sans', Arial, Helvetica, sans-serif";
const SERIF = "'Liberation Serif', 'Times New Roman', serif";
const svg = d3.select("#fig");
svg.append("rect").attr("width",4134).attr("height",3388).attr("fill","#fff");
const defs = svg.append("defs");

// panel letters
[["A",14,100],["B",2738,100],["C",12,1574]].forEach(([t,x,y])=>{
  svg.append("text").attr("x",x).attr("y",y).attr("font-family",SERIF).attr("font-size",106).attr("fill","#000").text(t);
});

// ---------- Panel A ----------
(function(){
  const g = svg.append("g").attr("font-family",SANS);
  const L=104, R=2692, topRule=90, bodyTop=161, bodyBot=1410;
  const n = aOR.length, per = aMethods.length;
  const rowY = d3.scaleBand().domain(d3.range(n)).range([bodyTop,bodyBot]);
  const fx = d3.scaleLinear().domain([aAxisTicks[0], aAxisTicks[aAxisTicks.length-1]]).range([1864,2138]);
  const colX = [540,1057,1408,1777,2418];
  g.selectAll("rect.st").data(d3.range(n).filter(i=>i%2===0)).join("rect")
    .attr("x",L).attr("width",R-L).attr("y",i=>rowY(i)).attr("height",rowY.bandwidth()).attr("fill","#eef2f0");
  g.selectAll("text.hd").data(aHeaders).join("text")
    .attr("x",(d,i)=>colX[i]).attr("y",131).attr("dy","0.35em").attr("text-anchor","middle")
    .attr("font-size",45).attr("font-weight","bold").attr("fill","#000").text(d=>d);
  // dashed null line at OR = 1
  g.append("line").attr("x1",fx(1)).attr("x2",fx(1)).attr("y1",bodyTop).attr("y2",bodyBot)
    .attr("stroke","#444").attr("stroke-width",1.6).attr("stroke-dasharray","8,7");
  const rules = [[topRule,4.5],[bodyTop,2.6],[rowY(per),2.6],[rowY(per*2),2.6],[rowY(per*3),2.6],[bodyBot,4.5]];
  rules.forEach(([y,w])=>g.append("line").attr("x1",L).attr("x2",R).attr("y1",y).attr("y2",y).attr("stroke","#111").attr("stroke-width",w));
  const [dMin,dMax] = fx.domain();
  d3.range(n).forEach(i=>{
    const gi = Math.floor(i/per), m = i%per;
    const yc = rowY(i)+rowY.bandwidth()/2;
    const or=aOR[i], lo=aLo[i], hi=aHi[i], p=aPval[i];
    const sig = p.startsWith("<") || parseFloat(p) < 0.05;
    const cells = [m===0?aExposures[gi]:"", String(aNsnp[gi]), aMethods[m], p,
      `${or.toFixed(3)} (${lo.toFixed(3)} to ${hi.toFixed(3)})`];
    cells.forEach((t,c)=>{ if(!t) return;
      g.append("text").attr("x",colX[c]).attr("y",yc).attr("dy","0.35em").attr("text-anchor","middle")
        .attr("font-size",31).attr("fill","#000").attr("font-weight",(c===3&&sig)?"bold":"normal").text(t);
    });
    const x1 = fx(Math.max(lo,dMin)), x2 = fx(Math.min(hi,dMax));
    g.append("line").attr("x1",x1).attr("x2",x2).attr("y1",yc).attr("y2",yc).attr("stroke","#000").attr("stroke-width",4);
    if (lo>=dMin) g.append("line").attr("x1",x1).attr("x2",x1).attr("y1",yc-8).attr("y2",yc+8).attr("stroke","#000").attr("stroke-width",3);
    if (hi<=dMax) g.append("line").attr("x1",x2).attr("x2",x2).attr("y1",yc-8).attr("y2",yc+8).attr("stroke","#000").attr("stroke-width",3);
    else g.append("path").attr("d",`M${x2-13},${yc-7}L${x2},${yc}L${x2-13},${yc+7}`).attr("fill","none").attr("stroke","#000").attr("stroke-width",3);
    if (or>=dMin && or<=dMax) g.append("circle").attr("cx",fx(or)).attr("cy",yc).attr("r",10).attr("fill",aMethodColors[m]);
  });
  const ax = g.append("g").attr("transform",`translate(0,${bodyBot})`)
    .call(d3.axisBottom(fx).tickValues(aAxisTicks).tickSize(30).tickPadding(8).tickFormat(d=>String(d)));
  ax.select(".domain").remove();
  ax.selectAll("line").attr("stroke","#666").attr("stroke-width",1.5);
  ax.selectAll("text").attr("font-size",34).attr("font-family",SANS).attr("fill","#000");
})();

// ---------- Panel B ----------
function minorOf(ticks, dom){
  const s = ticks[1]-ticks[0];
  const out = ticks.map(t=>t-s/2).concat([ticks[ticks.length-1]+s/2, ticks[0]-1.5*s, ticks[ticks.length-1]+1.5*s]);
  return out.filter(v=>v>dom[0]&&v<dom[1]);
}
function scatterPanel(cfg){
  const g = svg.append("g").attr("font-family",SANS);
  const x = d3.scaleLinear().domain(cfg.xDom).range([cfg.x0,cfg.x1]);
  const y = d3.scaleLinear().domain(cfg.yDom).range([cfg.y1,cfg.y0]);
  const cid = "clipB"+cfg.id;
  defs.append("clipPath").attr("id",cid).append("rect").attr("x",cfg.x0).attr("y",cfg.y0).attr("width",cfg.x1-cfg.x0).attr("height",cfg.y1-cfg.y0);
  g.append("rect").attr("x",cfg.x0).attr("y",cfg.y0).attr("width",cfg.x1-cfg.x0).attr("height",cfg.y1-cfg.y0).attr("fill","#ebebeb");
  const gr = g.append("g").attr("stroke","#fff");
  minorOf(cfg.xTicks,cfg.xDom).forEach(v=>gr.append("line").attr("x1",x(v)).attr("x2",x(v)).attr("y1",cfg.y0).attr("y2",cfg.y1).attr("stroke-width",0.8));
  minorOf(cfg.yTicks,cfg.yDom).forEach(v=>gr.append("line").attr("y1",y(v)).attr("y2",y(v)).attr("x1",cfg.x0).attr("x2",cfg.x1).attr("stroke-width",0.8));
  cfg.xTicks.forEach(v=>gr.append("line").attr("x1",x(v)).attr("x2",x(v)).attr("y1",cfg.y0).attr("y2",cfg.y1).attr("stroke-width",1.6));
  cfg.yTicks.forEach(v=>gr.append("line").attr("y1",y(v)).attr("y2",y(v)).attr("x1",cfg.x0).attr("x2",cfg.x1).attr("stroke-width",1.6));
  const gc = g.append("g").attr("clip-path",`url(#${cid})`);
  const eb = gc.append("g").attr("stroke","#bdbdbd").attr("stroke-width",1.3);
  cfg.points.forEach(p=>{
    eb.append("line").attr("x1",x(p[0]-p[2])).attr("x2",x(p[0]+p[2])).attr("y1",y(p[1])).attr("y2",y(p[1]));
    eb.append("line").attr("x1",x(p[0])).attr("x2",x(p[0])).attr("y1",y(p[1]-p[3])).attr("y2",y(p[1]+p[3]));
  });
  gc.selectAll("circle").data(cfg.points).join("circle").attr("cx",d=>x(d[0])).attr("cy",d=>y(d[1])).attr("r",3.4).attr("fill","#000");
  bDrawOrder.forEach(k=>{
    const a = cfg.intercepts[k], b = cfg.slopes[k];
    gc.append("line").attr("x1",x(cfg.xDom[0])).attr("x2",x(cfg.xDom[1]))
      .attr("y1",y(a+b*cfg.xDom[0])).attr("y2",y(a+b*cfg.xDom[1]))
      .attr("stroke",bColors[k]).attr("stroke-width",1.7);
  });
  const ax = g.append("g").attr("transform",`translate(0,${cfg.y1})`)
    .call(d3.axisBottom(x).tickValues(cfg.xTicks).tickFormat(d3.format(cfg.xFmt)).tickSize(4).tickPadding(3));
  const ay = g.append("g").attr("transform",`translate(${cfg.x0},0)`)
    .call(d3.axisLeft(y).tickValues(cfg.yTicks).tickFormat(d3.format(cfg.yFmt)).tickSize(4).tickPadding(3));
  [ax,ay].forEach(a=>{ a.select(".domain").remove(); a.selectAll("line").attr("stroke","#333").attr("stroke-width",1.1);
    a.selectAll("text").attr("font-size",11.2).attr("font-family",SANS).attr("fill","#4d4d4d"); });
  g.append("text").attr("x",(cfg.x0+cfg.x1)/2).attr("y",cfg.y1+36).attr("text-anchor","middle").attr("font-size",14).attr("fill","#000")
    .text("SNP effect on "+cfg.expo);
  g.append("text").attr("transform",`translate(${cfg.yTitleX},${(cfg.y0+cfg.y1)/2}) rotate(-90)`).attr("text-anchor","middle").attr("dy","0.35em")
    .attr("font-size",14).attr("fill","#000").text("SNP effect on "+cOutcome);
  // legend
  const lg = g.append("g");
  lg.append("text").attr("x",cfg.lx).attr("y",cfg.ly).attr("font-size",14).attr("fill","#000").text("MR Test");
  const slots = [[cfg.lx,0],[cfg.lx,1],[cfg.lx,2],[cfg.lx2,0],[cfg.lx2,1]];
  bMethods.forEach((mth,k)=>{
    const kx = slots[k][0], ky = cfg.ly + 25 + slots[k][1]*27.5;
    lg.append("rect").attr("x",kx).attr("y",ky-13.5).attr("width",24).attr("height",27).attr("fill","#ebebeb");
    lg.append("line").attr("x1",kx+1).attr("y1",ky+13).attr("x2",kx+23).attr("y2",ky-13).attr("stroke",bColors[k]).attr("stroke-width",1.6);
    lg.append("text").attr("x",kx+30).attr("y",ky).attr("dy","0.35em").attr("font-size",11.2).attr("fill","#000").text(mth);
  });
}
scatterPanel({id:1,x0:2830,x1:3431,y0:160,y1:691,xDom:b1XRange,yDom:b1YRange,xTicks:b1XTicks,yTicks:b1YTicks,xFmt:".2f",yFmt:".1f",
  points:b1Points,slopes:b1Slopes,intercepts:b1Intercepts,expo:bExposureIds[0],yTitleX:2790,lx:2982,lx2:3158,ly:41});
scatterPanel({id:2,x0:3516,x1:4115,y0:160,y1:687,xDom:b2XRange,yDom:b2YRange,xTicks:b2XTicks,yTicks:b2YTicks,xFmt:".2f",yFmt:".1f",
  points:b2Points,slopes:b2Slopes,intercepts:b2Intercepts,expo:bExposureIds[1],yTitleX:3476,lx:3669,lx2:3842,ly:44});
scatterPanel({id:3,x0:2838,x1:3431,y0:907,y1:1438,xDom:b3XRange,yDom:b3YRange,xTicks:b3XTicks,yTicks:b3YTicks,xFmt:".2f",yFmt:".2f",
  points:b3Points,slopes:b3Slopes,intercepts:b3Intercepts,expo:bExposureIds[2],yTitleX:2790,lx:2986,lx2:3160,ly:789});
scatterPanel({id:4,x0:3518,x1:4119,y0:905,y1:1438,xDom:b4XRange,yDom:b4YRange,xTicks:b4XTicks,yTicks:b4YTicks,xFmt:".2f",yFmt:".1f",
  points:b4Points,slopes:b4Slopes,intercepts:b4Intercepts,expo:bExposureIds[3],yTitleX:3476,lx:3670,lx2:3845,ly:788});

// ---------- Panel C ----------
function looPanel(cfg){
  const g = svg.append("g").attr("font-family",SANS);
  const n = Math.min(cfg.snps.length, cfg.b.length, cfg.hw.length);
  const rows = d3.range(n).map(i=>({lab:cfg.snps[i], b:cfg.b[i], lo:cfg.b[i]-cfg.hw[i], hi:cfg.b[i]+cfg.hw[i]}));
  const all = {lab:"All", b:Math.log(aOR[cfg.ivw]), lo:Math.log(aLo[cfg.ivw]), hi:Math.log(aHi[cfg.ivw])};
  const lo = Math.min(0, d3.min(rows,d=>d.lo), all.lo), hi = Math.max(0, d3.max(rows,d=>d.hi), all.hi);
  const pad = (hi-lo)*0.05;
  const x = d3.scaleLinear().domain([lo-pad,hi+pad]).range([cfg.left,cfg.right]);
  const top=1594, bot=3332;
  const y = d3.scalePoint().domain(d3.range(n+2)).range([top,bot]).padding(0.6);
  g.append("rect").attr("x",cfg.left).attr("y",top).attr("width",cfg.right-cfg.left).attr("height",bot-top).attr("fill","#ebebeb");
  const gr = g.append("g").attr("stroke","#fff");
  minorOf(cfg.ticks,x.domain()).forEach(v=>gr.append("line").attr("x1",x(v)).attr("x2",x(v)).attr("y1",top).attr("y2",bot).attr("stroke-width",0.8));
  cfg.ticks.forEach(v=>gr.append("line").attr("x1",x(v)).attr("x2",x(v)).attr("y1",top).attr("y2",bot).attr("stroke-width",1.6));
  d3.range(n+2).forEach(i=>gr.append("line").attr("x1",cfg.left).attr("x2",cfg.right).attr("y1",y(i)).attr("y2",y(i)).attr("stroke-width",1));
  g.append("line").attr("x1",x(0)).attr("x2",x(0)).attr("y1",top).attr("y2",bot).attr("stroke","#000").attr("stroke-width",1.2).attr("stroke-dasharray","2,3");
  g.append("line").attr("x1",cfg.left).attr("x2",cfg.right).attr("y1",y(n)).attr("y2",y(n)).attr("stroke","#bebebe").attr("stroke-width",2.2);
  const eb = g.append("g").attr("stroke","#1a1a1a").attr("stroke-width",1.3);
  rows.forEach((d,i)=>eb.append("line").attr("x1",x(d.lo)).attr("x2",x(d.hi)).attr("y1",y(i)).attr("y2",y(i)));
  g.selectAll("ellipse.pt").data(rows).join("ellipse").attr("cx",d=>x(d.b)).attr("cy",(d,i)=>y(i)).attr("rx",4.2).attr("ry",3.2).attr("fill","#000");
  g.append("line").attr("x1",x(all.lo)).attr("x2",x(all.hi)).attr("y1",y(n+1)).attr("y2",y(n+1)).attr("stroke","#ff0000").attr("stroke-width",3.4);
  g.append("ellipse").attr("cx",x(all.b)).attr("cy",y(n+1)).attr("rx",4.4).attr("ry",4).attr("fill","#ff0000");
  // y labels
  const labs = rows.map(d=>d.lab).concat(["","All"]);
  const tg = g.append("g").attr("font-size",cfg.fs).attr("fill","#4d4d4d");
  labs.forEach((t,i)=>{
    g.append("line").attr("x1",cfg.left-5).attr("x2",cfg.left).attr("y1",y(i)).attr("y2",y(i)).attr("stroke","#333").attr("stroke-width",1);
    if (t) tg.append("text").attr("transform",`translate(${cfg.left-cfg.gap},${y(i)}) scale(${cfg.sx},1)`).attr("text-anchor","end").attr("dy","0.35em").text(t);
  });
  // x axis
  const fmt = d3.format(".1f");
  cfg.ticks.forEach(v=>{
    g.append("line").attr("x1",x(v)).attr("x2",x(v)).attr("y1",bot).attr("y2",bot+4).attr("stroke","#333").attr("stroke-width",1);
    g.append("text").attr("transform",`translate(${x(v)},${bot+11}) scale(1.7,1)`).attr("text-anchor","middle").attr("dy","0.35em")
      .attr("font-size",10.5).attr("fill","#4d4d4d").text(fmt(v));
  });
  const cx = (cfg.left+cfg.right)/2;
  [["MR leave-one-out sensitivity analysis for",3356],[`'${cfg.expo}' on '${cOutcome}'`,3367.5]].forEach(([t,yy])=>{
    g.append("text").attr("transform",`translate(${cx},${yy}) scale(1.75,1)`).attr("text-anchor","middle").attr("dy","0.35em")
      .attr("font-size",9.5).attr("fill","#000").text(t);
  });
}
looPanel({snps:c1Snps,b:c1B,hw:c1Hw,ivw:2,ticks:c1Ticks,left:255,right:1066,fs:9.5,sx:1.75,gap:9,expo:bExposureIds[0]});
looPanel({snps:c2Snps,b:c2B,hw:c2Hw,ivw:7,ticks:c2Ticks,left:1263,right:2073,fs:11,sx:1.5,gap:11,expo:bExposureIds[1]});
looPanel({snps:c3Snps,b:c3B,hw:c3Hw,ivw:12,ticks:c3Ticks,left:2281,right:3096,fs:11.5,sx:1.43,gap:10,expo:bExposureIds[2]});
looPanel({snps:c4Snps,b:c4B,hw:c4Hw,ivw:17,ticks:c4Ticks,left:3300,right:4118,fs:9.5,sx:1.75,gap:11,expo:bExposureIds[3]});
</script>
</body></html>
